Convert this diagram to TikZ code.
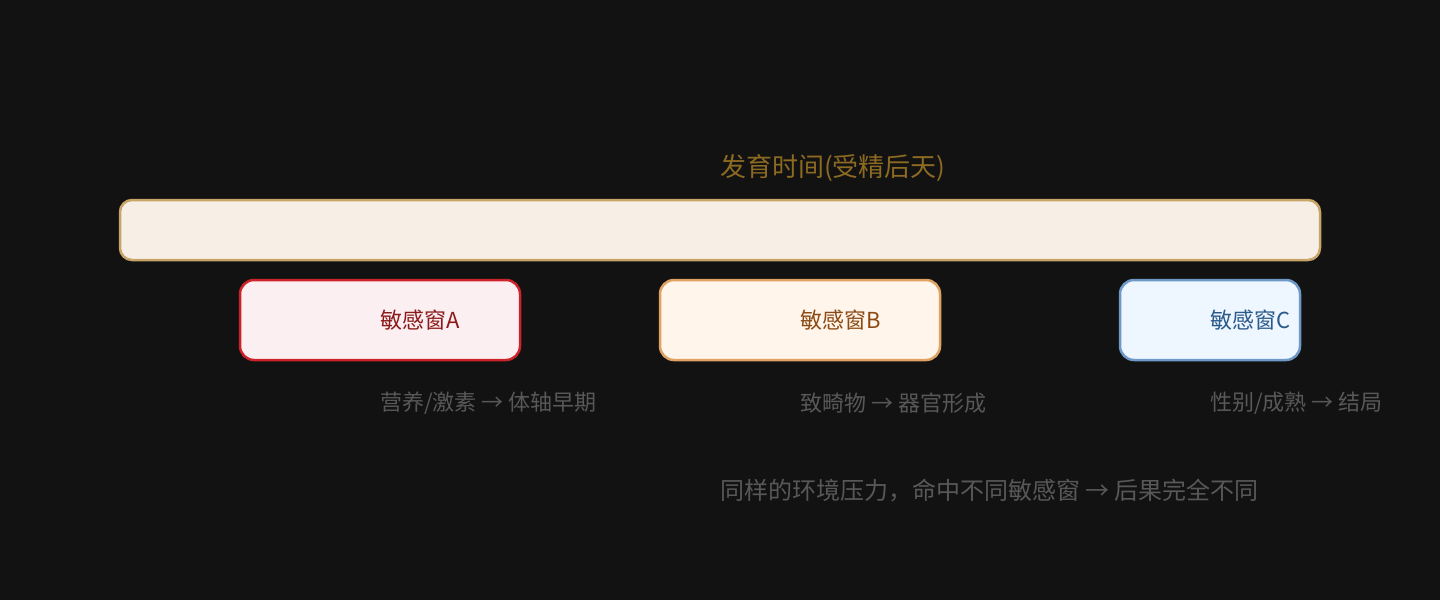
\documentclass[tikz,border=0pt]{standalone}
\usepackage{fontspec}
\setmainfont{Noto Sans CJK SC}
\usepackage{xcolor}
\usetikzlibrary{positioning,calc}

\definecolor{bgdark}{HTML}{121212}
\definecolor{barfill}{HTML}{F7EFE5}
\definecolor{bardraw}{HTML}{C8A468}
\definecolor{titlecol}{HTML}{8C6A22}
\definecolor{afill}{HTML}{FCEFF1}
\definecolor{adraw}{HTML}{CC2229}
\definecolor{atext}{HTML}{8B1A1A}
\definecolor{bfill}{HTML}{FFF5EA}
\definecolor{bdraw}{HTML}{DFA262}
\definecolor{btext}{HTML}{8B4A14}
\definecolor{cfill}{HTML}{EEF6FF}
\definecolor{cdraw}{HTML}{6E98C6}
\definecolor{ctext}{HTML}{2A5A8A}
\definecolor{notecol}{HTML}{585858}

\tikzset{
  winbox/.style={draw=#1, line width=2.5pt, rounded corners=14pt, minimum height=80pt, inner sep=0pt},
  note/.style={anchor=west, inner sep=0pt, text=notecol, font=\fontsize{22}{26}\selectfont},
}

\begin{document}
\begin{tikzpicture}[x=1pt,y=-1pt]
\fill[bgdark] (0,0) rectangle (1440,600);
\useasboundingbox (0,0) rectangle (1440,600);

% Timeline bar
\node[draw=bardraw, fill=barfill, line width=2.5pt, rounded corners=12pt,
      minimum width=1200pt, minimum height=60pt, inner sep=0pt] (bar) at (720,230) {};
\node[anchor=west, inner sep=0pt, text=titlecol, font=\fontsize{26}{30}\selectfont] (title) at (720,168) {发育时间(受精后天)};

% Windows
\node[winbox=adraw, fill=afill, minimum width=280pt] (winA) at (380,320) {};
\node[anchor=west, inner sep=0pt, text=atext, font=\fontsize{22}{26}\selectfont] (labA) at (winA.center) {敏感窗A};
\node[winbox=bdraw, fill=bfill, minimum width=280pt] (winB) at (800,320) {};
\node[anchor=west, inner sep=0pt, text=btext, font=\fontsize{22}{26}\selectfont] (labB) at (winB.center) {敏感窗B};
\node[winbox=cdraw, fill=cfill, minimum width=180pt] (winC) at (1210,320) {};
\node[anchor=west, inner sep=0pt, text=ctext, font=\fontsize{22}{26}\selectfont] (labC) at (winC.center) {敏感窗C};

% Effects
\node[note] (effA) at (380,403) {营养/激素 → 体轴早期};
\node[note] (effB) at (800,403) {致畸物 → 器官形成};
\node[note] (effC) at (1210,403) {性别/成熟 → 结局};

\node[note, font=\fontsize{24}{28}\selectfont] (summary) at (720,491) {同样的环境压力，命中不同敏感窗 → 后果完全不同};
\end{tikzpicture}
\end{document}
